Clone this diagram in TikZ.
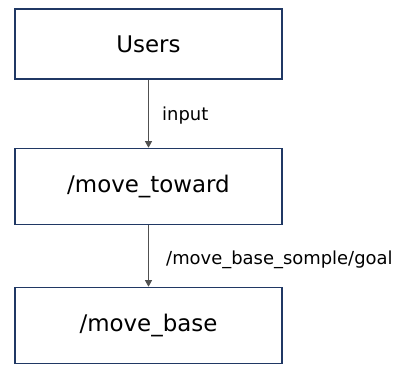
\documentclass[tikz,border=0pt]{standalone}
\usepackage{fontspec}
\setmainfont{DejaVu Sans}
\usetikzlibrary{positioning,arrows.meta}
\definecolor{frame}{HTML}{203864}
\definecolor{wire}{HTML}{505050}

\begin{document}
\begin{tikzpicture}[x=1bp, y=-1bp, font=\fontsize{23}{26}\selectfont,
  nodebox/.style={draw=frame, line width=1.6bp, minimum width=267bp, minimum height=76bp, inner sep=0pt},
  topic/.style={-{Triangle[length=6.5bp, width=7bp]}, draw=wire, line width=0.8bp},
  tlabel/.style={font=\fontsize{18}{21}\selectfont, anchor=west}]
\useasboundingbox (0,0) rectangle (403,365);
\node[nodebox, minimum height=70bp] (users) at (148.5,44) {Users};
\node[nodebox] (toward) at (148.5,186.5) {/move\_toward};
\node[nodebox] (base) at (148.5,325.5) {/move\_base};
% topics between the nodes
\draw[topic] (users) -- (toward) node[midway, tlabel, xshift=10bp, yshift=-2bp] {input};
\draw[topic] (toward) -- (base) node[midway, tlabel, xshift=14bp, yshift=-4bp] {/move\_base\_somple/goal};
\end{tikzpicture}
\end{document}
